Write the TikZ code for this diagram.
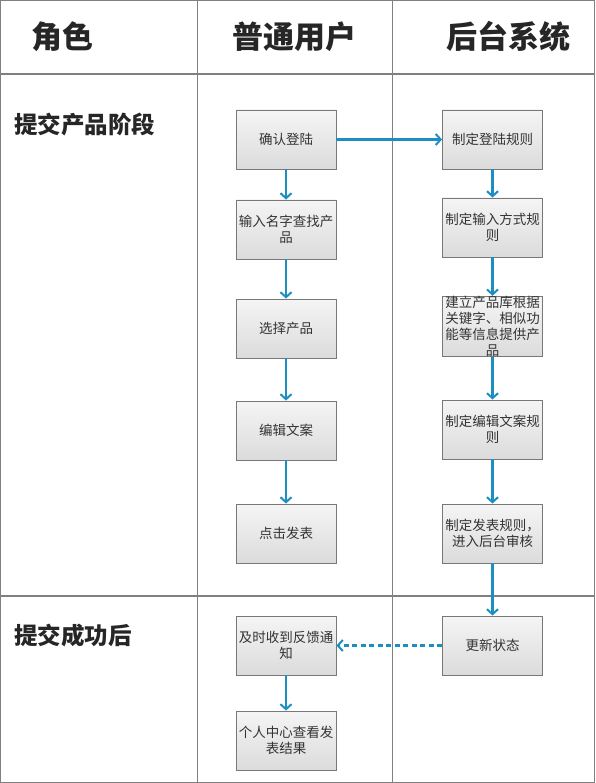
\documentclass[tikz,border=0pt]{standalone}
\usepackage{fontspec}
\setmainfont{Noto Sans CJK SC}
\newfontfamily\cjk{Noto Sans CJK SC}
\usetikzlibrary{arrows.meta}
\definecolor{gridc}{RGB}{128,128,128}
\definecolor{arrowc}{RGB}{28,142,194}
\definecolor{boxline}{RGB}{120,120,120}
\definecolor{txtc}{RGB}{51,51,51}
\tikzset{
  stepbox/.style={draw=boxline, line width=0.9pt, minimum width=100pt, minimum height=59pt,
    inner sep=0pt, top color=white!96!black, bottom color=black!14, align=center,
    text=txtc, font=\cjk\fontsize{13.5}{16}\selectfont},
  headtxt/.style={font=\cjk\bfseries\fontsize{31}{36}\selectfont, text=black!85, inner sep=0pt},
  rowtxt/.style={font=\cjk\bfseries\fontsize{23.5}{28}\selectfont, text=black!85, inner sep=0pt, anchor=west},
  flow/.style={draw=arrowc, line width=2.2pt, -{Straight Barb[length=5pt,width=11pt,line width=2pt]}},
  grid/.style={draw=gridc, line width=1.4pt}
}
\begin{document}
\begin{tikzpicture}[x=1pt,y=-1pt]
\useasboundingbox (0,0) rectangle (595,783);
% table
\draw[grid] (0.7,0.7) rectangle (594.3,782.3);
\draw[grid] (0,74) -- (595,74);
\draw[grid] (0,596) -- (595,596);
\draw[grid] (197.5,0) -- (197.5,783);
\draw[grid] (392.5,0) -- (392.5,783);
% headers
\node[headtxt] (h1) at (62,37) {角色};
\node[headtxt] (h2) at (294,37) {普通用户};
\node[headtxt] (h3) at (508,37) {后台系统};
\node[rowtxt] (r1) at (14,125) {提交产品阶段};
\node[rowtxt] (r2) at (14,636) {提交成功后};
% user column
\node[stepbox] (u1) at (286,139.5) {确认登陆};
\node[stepbox] (u2) at (286,229.5) {输入名字查找产\\品};
\node[stepbox] (u3) at (286,328.5) {选择产品};
\node[stepbox] (u4) at (286,430.5) {编辑文案};
\node[stepbox] (u5) at (286,533.5) {点击发表};
\node[stepbox] (u6) at (286,645.5) {及时收到反馈通\\知};
\node[stepbox] (u7) at (286,740.5) {个人中心查看发\\表结果};
% system column
\node[stepbox] (s1) at (492.5,139.5) {制定登陆规则};
\node[stepbox] (s2) at (492.5,227.5) {制定输入方式规\\则};
\node[stepbox] (s3) at (492.5,326.5) {建立产品库根据\\关键字、相似功\\能等信息提供产\\品};
\node[stepbox] (s4) at (492.5,429.5) {制定编辑文案规\\则};
\node[stepbox] (s5) at (492.5,533.5) {制定发表规则，\\进入后台审核};
\node[stepbox] (s6) at (492.5,645.5) {更新状态};
% connectors
\draw[flow] (u1) -- (s1);
\draw[flow] (u1) -- (u2);
\draw[flow] (u2) -- (u3);
\draw[flow] (u3) -- (u4);
\draw[flow] (u4) -- (u5);
\draw[flow] (u6) -- (u7);
\draw[flow] (s1) -- (s2);
\draw[flow] (s2) -- (s3);
\draw[flow] (s3) -- (s4);
\draw[flow] (s4) -- (s5);
\draw[flow] (s5) -- (s6);
\draw[flow, dash pattern=on 5pt off 3.5pt] (s6) -- (u6);
\end{tikzpicture}
\end{document}
